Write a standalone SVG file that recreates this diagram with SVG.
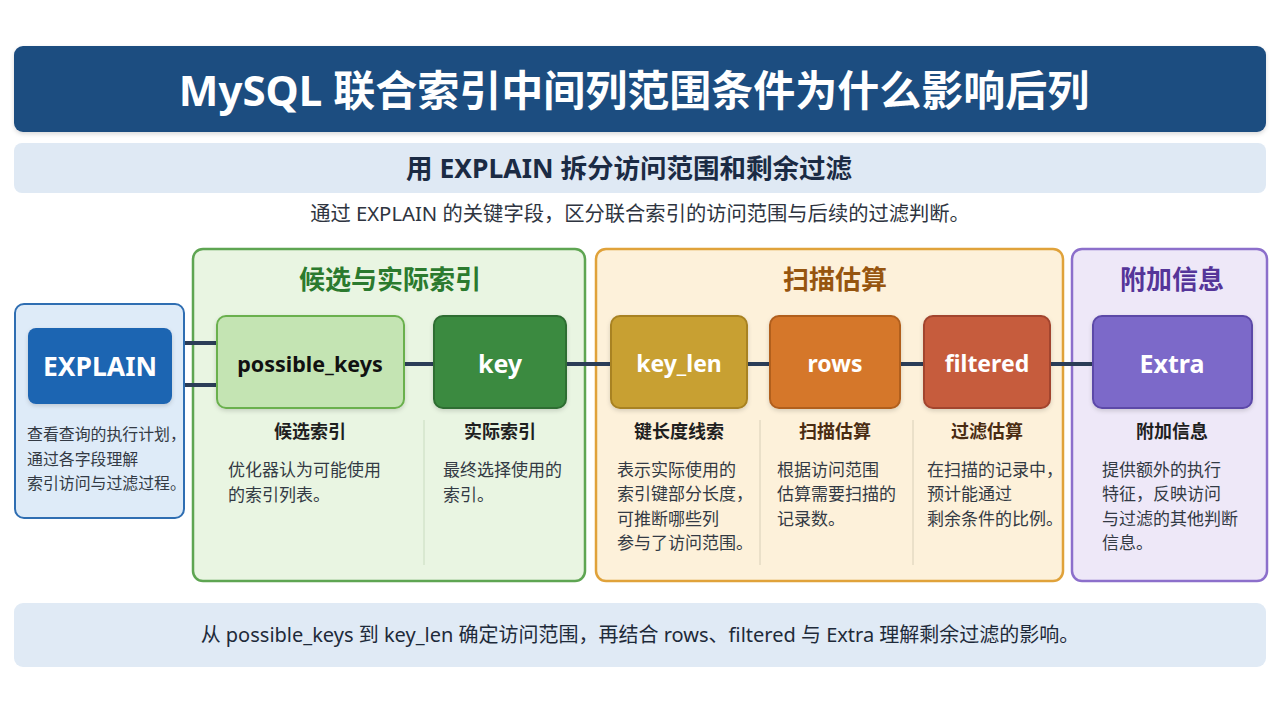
<svg xmlns="http://www.w3.org/2000/svg" width="1280" height="720" viewBox="0 0 1280 720">
<defs>
<style>
text{font-family:"Noto Sans","Noto Sans CJK SC",sans-serif;}
.title{font-size:42px;font-weight:700;fill:#ffffff;}
.sub{font-size:26.5px;font-weight:700;fill:#1b2b44;}
.desc{font-size:20.3px;fill:#2e3440;}
.gtitle{font-size:26px;font-weight:700;}
.node{font-size:23px;font-weight:700;fill:#ffffff;}
.lab{font-size:18px;font-weight:700;fill:#1f1f1f;}
.d{font-size:17px;fill:#333a44;}
.conn{stroke:#2b3d57;stroke-width:4;fill:none;}
.div{stroke:#d8cfb8;stroke-width:1;}
</style>
<filter id="sh" x="-10%" y="-10%" width="120%" height="130%">
<feDropShadow dx="0" dy="2" stdDeviation="2" flood-color="#000" flood-opacity="0.15"/>
</filter>
</defs>
<rect width="1280" height="720" fill="#ffffff"/>

<g id="header">
<rect x="14" y="46" width="1252" height="86" rx="9" fill="#1d4d80" filter="url(#sh)"/>
<text class="title" x="634" y="106" text-anchor="middle">MySQL 联合索引中间列范围条件为什么影响后列</text>
<rect x="14" y="143" width="1252" height="50" rx="8" fill="#dfe9f4"/>
<text class="sub" x="629" y="178" text-anchor="middle">用 EXPLAIN 拆分访问范围和剩余过滤</text>
<text class="desc" x="640" y="221" text-anchor="middle">通过 EXPLAIN 的关键字段，区分联合索引的访问范围与后续的过滤判断。</text>
</g>

<g id="groups">
<rect x="193" y="249" width="392" height="332" rx="10" fill="#e9f5e2" stroke="#5ea552" stroke-width="2.5"/>
<text class="gtitle" x="390" y="289" text-anchor="middle" fill="#2b7a2e">候选与实际索引</text>
<line class="div" x1="424" y1="420" x2="424" y2="565" style="stroke:#c9dcc0"/>
<rect x="596" y="249" width="467" height="332" rx="10" fill="#fdf1da" stroke="#e0a23a" stroke-width="2.5"/>
<text class="gtitle" x="835" y="289" text-anchor="middle" fill="#96550f">扫描估算</text>
<line class="div" x1="760" y1="420" x2="760" y2="565"/>
<line class="div" x1="913" y1="420" x2="913" y2="565"/>
<rect x="1072" y="249" width="195" height="332" rx="10" fill="#eee8f8" stroke="#8c6fcb" stroke-width="2.5"/>
<text class="gtitle" x="1172" y="289" text-anchor="middle" fill="#553599">附加信息</text>
</g>

<g id="connectors">
<line class="conn" x1="184" y1="343" x2="217" y2="343"/>
<line class="conn" x1="172" y1="385" x2="217" y2="385"/>
<line class="conn" x1="404" y1="364" x2="434" y2="364"/>
<line class="conn" x1="566" y1="364" x2="611" y2="364"/>
<line class="conn" x1="747" y1="364" x2="770" y2="364"/>
<line class="conn" x1="900" y1="364" x2="924" y2="364"/>
<line class="conn" x1="1050" y1="364" x2="1093" y2="364"/>
</g>

<g id="explain">
<rect x="15" y="304" width="169" height="214" rx="9" fill="#deebf8" stroke="#2f6eb2" stroke-width="2"/>
<rect x="28" y="328" width="144" height="76" rx="8" fill="#1f65b2" filter="url(#sh)"/>
<text class="node" x="100" y="376" text-anchor="middle" style="font-size:26.5px">EXPLAIN</text>
<text class="d" x="27" y="440" style="font-size:15.9px">查看查询的执行计划，</text>
<text class="d" x="27" y="465" style="font-size:15.9px">通过各字段理解</text>
<text class="d" x="27" y="489" style="font-size:15.9px">索引访问与过滤过程。</text>
</g>

<g id="possible_keys">
<rect x="217" y="316" width="187" height="92" rx="9" fill="#c4e4b3" stroke="#6ab04e" stroke-width="2" filter="url(#sh)"/>
<text class="node" x="310" y="372" text-anchor="middle" style="font-size:21.5px;fill:#111">possible_keys</text>
<text class="lab" x="310" y="438" text-anchor="middle">候选索引</text>
<text class="d" x="228" y="476">优化器认为可能使用</text>
<text class="d" x="228" y="501">的索引列表。</text>
</g>

<g id="key">
<rect x="434" y="316" width="132" height="92" rx="9" fill="#3b8a3f" stroke="#2d6d31" stroke-width="2" filter="url(#sh)"/>
<text class="node" x="500" y="373" text-anchor="middle" style="font-size:25px">key</text>
<text class="lab" x="500" y="438" text-anchor="middle">实际索引</text>
<text class="d" x="443" y="476">最终选择使用的</text>
<text class="d" x="443" y="501">索引。</text>
</g>

<g id="key_len">
<rect x="611" y="316" width="136" height="92" rx="9" fill="#c8a032" stroke="#a88222" stroke-width="2" filter="url(#sh)"/>
<text class="node" x="679" y="372" text-anchor="middle">key_len</text>
<text class="lab" x="679" y="438" text-anchor="middle">键长度线索</text>
<text class="d" x="617" y="476">表示实际使用的</text>
<text class="d" x="617" y="500">索引键部分长度，</text>
<text class="d" x="617" y="525">可推断哪些列</text>
<text class="d" x="617" y="549">参与了访问范围。</text>
</g>

<g id="rows">
<rect x="770" y="316" width="130" height="92" rx="9" fill="#d5772c" stroke="#b15f1f" stroke-width="2" filter="url(#sh)"/>
<text class="node" x="835" y="372" text-anchor="middle">rows</text>
<text class="lab" x="835" y="438" text-anchor="middle" style="fill:#4a2c12">扫描估算</text>
<text class="d" x="777" y="476">根据访问范围</text>
<text class="d" x="777" y="500">估算需要扫描的</text>
<text class="d" x="777" y="525">记录数。</text>
</g>

<g id="filtered">
<rect x="924" y="316" width="126" height="92" rx="9" fill="#c65b3c" stroke="#a2442e" stroke-width="2" filter="url(#sh)"/>
<text class="node" x="987" y="372" text-anchor="middle">filtered</text>
<text class="lab" x="987" y="438" text-anchor="middle" style="fill:#4a2c12">过滤估算</text>
<text class="d" x="927" y="476">在扫描的记录中，</text>
<text class="d" x="927" y="500">预计能通过</text>
<text class="d" x="927" y="525">剩余条件的比例。</text>
</g>

<g id="extra">
<rect x="1093" y="316" width="159" height="92" rx="9" fill="#7c69c9" stroke="#5c48a8" stroke-width="2" filter="url(#sh)"/>
<text class="node" x="1172" y="373" text-anchor="middle" style="font-size:25px">Extra</text>
<text class="lab" x="1172" y="438" text-anchor="middle">附加信息</text>
<text class="d" x="1102" y="476">提供额外的执行</text>
<text class="d" x="1102" y="500">特征，反映访问</text>
<text class="d" x="1102" y="525">与过滤的其他判断</text>
<text class="d" x="1102" y="549">信息。</text>
</g>

<g id="footer">
<rect x="14" y="603" width="1252" height="64" rx="9" fill="#e0eaf5"/>
<text class="desc" x="640" y="642" text-anchor="middle" style="font-size:20px;fill:#1e2a3a">从 possible_keys 到 key_len 确定访问范围，再结合 rows、filtered 与 Extra 理解剩余过滤的影响。</text>
</g>
</svg>
